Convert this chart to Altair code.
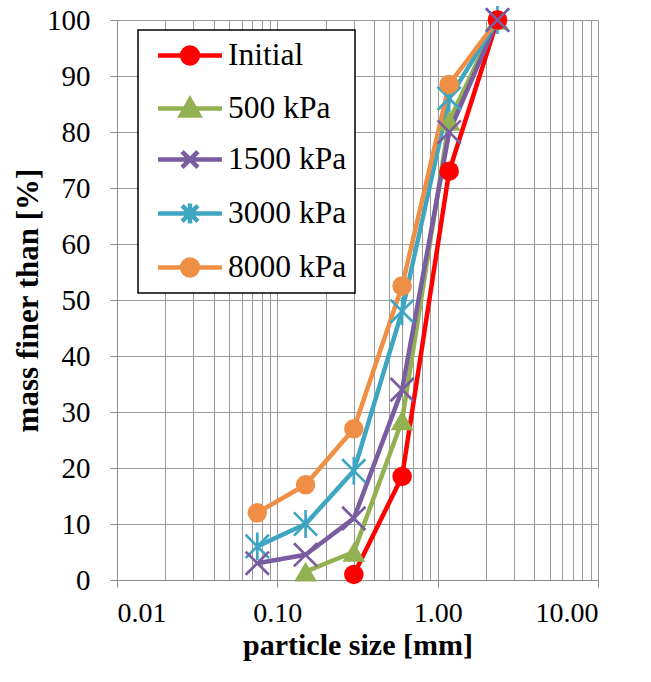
import altair as alt
import pandas as pd

# ---- data ----
sieve_mm = [0.075, 0.15, 0.3, 0.6, 1.18, 2.36]
series_names = ["Initial", "500 kPa", "1500 kPa", "3000 kPa", "8000 kPa"]
initial = [None, None, 1.0, 18.5, 73.0, 100.0]
kpa500 = [None, 1.5, 5.0, 28.5, 82.0, 100.0]
kpa1500 = [3.0, 4.5, 11.0, 34.0, 80.0, 100.0]
kpa3000 = [6.0, 10.0, 19.5, 48.0, 86.0, 100.0]
kpa8000 = [12.0, 17.0, 27.0, 52.5, 88.5, 100.0]
series_values = [initial, kpa500, kpa1500, kpa3000, kpa8000]
colors = ["#FF0000", "#92B150", "#7A5CA0", "#3FA6C2", "#EF8F45"]
# order in which the markers are painted (later = on top)
marker_order = ["3000 kPa", "8000 kPa", "500 kPa", "Initial", "1500 kPa"]

x_major = [0.01, 0.1, 1, 10]
x_grid = [0.01, 0.02, 0.03, 0.04, 0.05, 0.06, 0.07, 0.08, 0.09,
          0.1, 0.2, 0.3, 0.4, 0.5, 0.6, 0.7, 0.8, 0.9,
          1, 2, 3, 4, 5, 6, 7, 8, 9, 10]
y_ticks = [0, 10, 20, 30, 40, 50, 60, 70, 80, 90, 100]

rows = []
for name, vals in zip(series_names, series_values):
    for s, v in zip(sieve_mm, vals):
        if v is not None:
            rows.append({"series": name, "size": s, "pct": v})
df = pd.DataFrame(rows)

# marker shapes (plot) and legend symbols (line + marker)
X_PATH = "M-1,-1L1,1M-1,1L1,-1"
STAR_PATH = "M-1,-1L1,1M-1,1L1,-1M0,-1.2L0,1.2"
marker_specs = [
    dict(shape="circle", filled=True, size=380),
    dict(shape="triangle-up", filled=True, size=520),
    dict(shape=X_PATH, filled=False, size=540),
    dict(shape=STAR_PATH, filled=False, size=540),
    dict(shape="circle", filled=True, size=380),
]
LINE = "M-2.13,0H2.13"
CIRCLE = "M0.53,0A0.53,0.53,0,1,1,-0.53,0A0.53,0.53,0,1,1,0.53,0Z"
legend_paths = [
    LINE + CIRCLE,
    LINE + "M0,-0.6L0.6,0.47L-0.6,0.47Z",
    LINE + "M-0.53,-0.53L0.53,0.53M-0.53,0.53L0.53,-0.53",
    LINE + "M-0.53,-0.53L0.53,0.53M-0.53,0.53L0.53,-0.53M0,-0.67L0,0.67",
    LINE + CIRCLE,
]

SERIF = "Liberation Serif"
GRID = "#9A9A9A"
major_test = "indexof([0.01, 0.1, 1, 10], datum.value) >= 0"

x_enc = alt.X(
    "size:Q",
    scale=alt.Scale(type="log", domain=[0.01, 10], nice=False),
    axis=alt.Axis(
        values=x_grid,
        labelExpr=major_test + " ? format(datum.value, '.2f') : ''",
        labelOverlap=False,
        labelFont=SERIF, labelFontSize=28, labelColor="black",
        labelBaseline="alphabetic", labelPadding=34,
        tickSize=7, tickColor="#8C8C8C",
        tickOpacity={"condition": {"test": major_test, "value": 1}, "value": 0},
        grid=True, gridColor=GRID, gridWidth=1,
        domainColor="#8C8C8C",
        title="particle size [mm]",
        titleFont=SERIF, titleFontSize=30, titleFontWeight="bold", titleColor="black",
        titleBaseline="alphabetic", titleX=240.5, titleY=74, titleAlign="center",
    ),
)
y_enc = alt.Y(
    "pct:Q",
    scale=alt.Scale(domain=[0, 100], nice=False),
    axis=alt.Axis(
        values=y_ticks,
        labelFont=SERIF, labelFontSize=29, labelColor="black",
        labelPadding=20,
        tickSize=7, tickColor="#8C8C8C",
        grid=True, gridColor=GRID, gridWidth=1,
        domainColor="#8C8C8C",
        title="mass finer than [%]",
        titleFont=SERIF, titleFontSize=31, titleFontWeight="bold", titleColor="black",
        titleBaseline="alphabetic", titleAngle=270, titleX=-80, titleY=280,
        titleAlign="center",
    ),
)

base = alt.Chart(df)

legend = alt.Legend(
    title=None, orient="none", legendX=21, legendY=10,
    strokeColor="black", fillColor="white", padding=8,
    labelFont=SERIF, labelFontSize=31.5, labelColor="black",
    symbolOffset=26.5, labelOffset=20.5, rowPadding=17,
    symbolSize=900, symbolStrokeWidth=4.5,
    symbolStrokeColor=alt.ExprRef(expr="scale('color', datum.value)"),
    symbolFillColor=alt.ExprRef(expr="scale('color', datum.value)"),
)
# invisible layer that only carries the legend
legend_layer = base.mark_point(filled=True, opacity=0, strokeWidth=4.5).encode(
    x=x_enc, y=y_enc,
    color=alt.Color("series:N", scale=alt.Scale(domain=series_names, range=colors),
                    legend=legend),
    shape=alt.Shape("series:N", scale=alt.Scale(domain=series_names, range=legend_paths),
                    legend=legend),
)
layers = [legend_layer]

style = {n: (c, s) for n, c, s in zip(series_names, colors, marker_specs)}

for name in series_names:
    col = style[name][0]
    sub = base.transform_filter(alt.datum.series == name)
    layers.append(
        sub.mark_line(strokeWidth=4.5, strokeJoin="round", color=col).encode(
            x=x_enc, y=y_enc,
        )
    )

for name in marker_order:
    col, spec = style[name]
    sub = base.transform_filter(alt.datum.series == name)
    if spec["filled"]:
        mk = sub.mark_point(shape=spec["shape"], filled=True, size=spec["size"],
                            opacity=1, color=col)
    else:
        mk = sub.mark_point(shape=spec["shape"], filled=False, size=spec["size"],
                            strokeWidth=2.7, opacity=1, color=col)
    layers.append(mk.encode(x=x_enc, y=y_enc))

chart = (
    alt.layer(*layers)
    .properties(
        width=481, height=560,
        padding={"left": 117, "top": 20, "right": 53, "bottom": 102},
        autosize="none",
    )
    .configure_view(stroke=None)
    .configure_legend(strokeWidth=1.5)
)

chart.save("out.html", embed_options={"renderer": "svg", "actions": False})
